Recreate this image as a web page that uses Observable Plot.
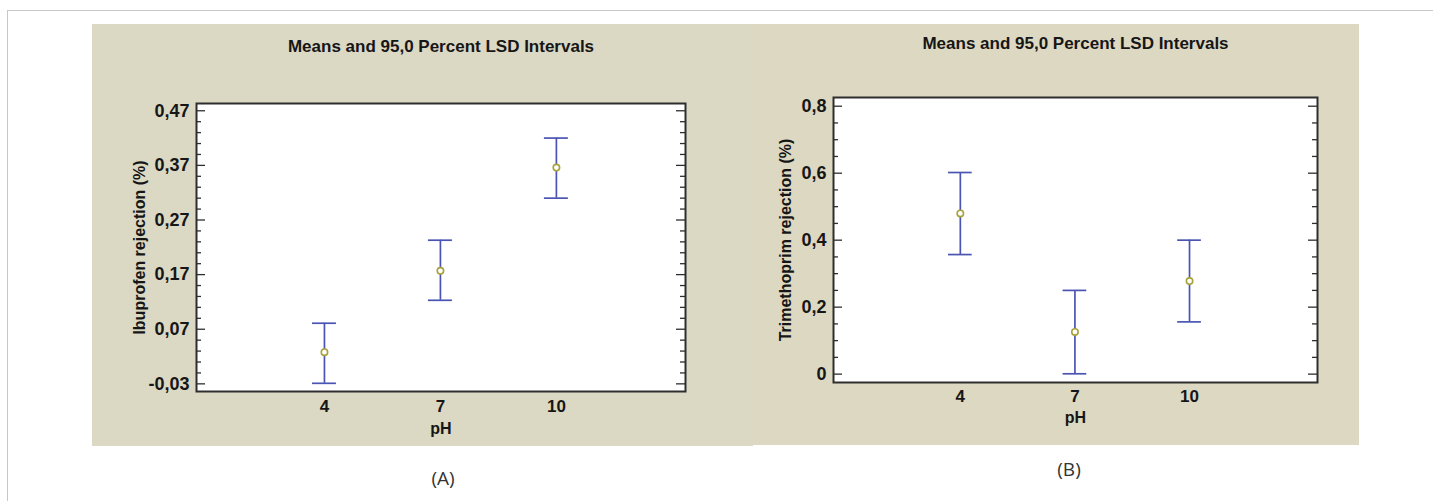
<!DOCTYPE html>
<html>
<head>
<meta charset="utf-8">
<script src="https://cdn.jsdelivr.net/npm/d3@7"></script>
<script src="https://cdn.jsdelivr.net/npm/@observablehq/plot@0.6"></script>
<style>
  html, body { margin: 0; padding: 0; background: #ffffff; }
  body { width: 1433px; height: 501px; position: relative; overflow: hidden; }
  .frame-top { position: absolute; left: 7px; top: 10px; width: 1426px; height: 1px; background: #c8c8c8; }
  .frame-left { position: absolute; left: 7px; top: 10px; width: 1px; height: 491px; background: #c8c8c8; }
  .panel { position: absolute; }
  .caption { position: absolute; font-family: "Open Sans", "Noto Sans", sans-serif; font-size: 19px; color: #333; transform: translate(-50%, -50%); white-space: nowrap; }
</style>
</head>
<body>
<div class="frame-top"></div>
<div class="frame-left"></div>
<div id="panelA" class="panel" style="left:92px; top:24px;"></div>
<div id="panelB" class="panel" style="left:753px; top:24px;"></div>
<div class="caption" style="left:443px; top:478px;">(A)</div>
<div class="caption" style="left:1069px; top:469px;">(B)</div>
<script>
// ---- data ----
const phLevels = [4, 7, 10];

const ibuMean  = [0.028, 0.177, 0.366];
const ibuLower = [-0.029, 0.123, 0.310];
const ibuUpper = [0.081, 0.233, 0.420];

const triMean  = [0.480, 0.126, 0.278];
const triLower = [0.357, 0.001, 0.156];
const triUpper = [0.602, 0.250, 0.400];

const ibuTicks = [-0.03, 0.07, 0.17, 0.27, 0.37, 0.47];
const ibuTickLabels = ["-0,03", "0,07", "0,17", "0,27", "0,37", "0,47"];
const triTicks = [0, 0.2, 0.4, 0.6, 0.8];
const triTickLabels = ["0", "0,2", "0,4", "0,6", "0,8"];
const phTickLabels = ["4", "7", "10"];

const titleText = "Means and 95,0 Percent LSD Intervals";
const ibuYLabel = "Ibuprofen rejection (%)";
const triYLabel = "Trimethoprim rejection (%)";
const xLabel = "pH";

// minor ticks (axis decoration only)
const ibuMinor = d3.range(0, 26).map(i => +(-0.03 + 0.02 * i).toFixed(2)).filter((d, i) => i % 5 !== 0);
const triMinor = d3.range(0, 17).map(i => +(0.05 * i).toFixed(2)).filter((d, i) => i % 4 !== 0);

const blue = "#4a55b3";
const olive = "#a8a23a";
const dark = "#2e2e2e";
const textColor = "#161616";
const capHalf = 0.31; // half-width of the interval caps, in pH units

function panel(cfg) {
  const rows = phLevels.map((ph, i) => ({ph, mean: cfg.mean[i], lo: cfg.lower[i], hi: cfg.upper[i]}));
  const fw = cfg.width - cfg.marginLeft - cfg.marginRight;
  const fmt = d => cfg.tickLabels[cfg.ticks.findIndex(t => Math.abs(t - d) < 1e-9)];
  const tickStyle = {stroke: dark, strokeWidth: 1.3};
  return Plot.plot({
    width: cfg.width,
    height: cfg.height,
    marginLeft: cfg.marginLeft,
    marginRight: cfg.marginRight,
    marginTop: cfg.marginTop,
    marginBottom: cfg.marginBottom,
    x: {domain: cfg.xDomain},
    y: {domain: cfg.yDomain},
    style: {
      background: cfg.bg,
      fontFamily: "'Liberation Sans', Arial, sans-serif",
      fontWeight: "bold",
      fontSize: "16px",
      color: textColor,
      overflow: "visible"
    },
    marks: [
      Plot.frame({fill: "white"}),
      Plot.tickY(cfg.ticks, {y: d => d, insetRight: fw - 9, ...tickStyle}),
      Plot.tickY(cfg.ticks, {y: d => d, insetLeft: fw - 9, ...tickStyle}),
      Plot.tickY(cfg.minor, {y: d => d, insetRight: fw - 5, ...tickStyle}),
      Plot.tickY(cfg.minor, {y: d => d, insetLeft: fw - 5, ...tickStyle}),
      Plot.axisY({ticks: cfg.ticks, tickSize: 0, tickPadding: 7, tickFormat: fmt, label: null, fontSize: 18, fontWeight: "bold", fill: textColor}),
      Plot.axisX({ticks: phLevels, tickSize: 0, tickPadding: cfg.xTickPad, tickFormat: d => phTickLabels[phLevels.indexOf(d)], label: null, fontSize: 17, fontWeight: "bold", fill: textColor}),
      Plot.ruleX(rows, {x: "ph", y1: "lo", y2: "hi", stroke: blue, strokeWidth: 1.7}),
      Plot.ruleY(rows, {y: "hi", x1: d => d.ph - capHalf, x2: d => d.ph + capHalf, stroke: blue, strokeWidth: 1.7}),
      Plot.ruleY(rows, {y: "lo", x1: d => d.ph - capHalf, x2: d => d.ph + capHalf, stroke: blue, strokeWidth: 1.7}),
      Plot.dot(rows, {x: "ph", y: "mean", symbol: "circle", r: 3.2, stroke: olive, fill: "white", strokeWidth: 1.6}),
      Plot.text([titleText], {text: d => d, frameAnchor: "top", dy: -cfg.titleGap, fontSize: 17, fontWeight: "bold", textAnchor: "middle", lineAnchor: "middle", fill: textColor}),
      Plot.text([xLabel], {text: d => d, frameAnchor: "bottom", dy: cfg.xLabelGap, fontSize: 16, fontWeight: "bold", textAnchor: "middle", lineAnchor: "middle", fill: textColor}),
      Plot.text([cfg.yLabel], {text: d => d, frameAnchor: "left", dx: -cfg.yLabelGap, rotate: -90, fontSize: 16, fontWeight: "bold", textAnchor: "middle", lineAnchor: "middle", fill: textColor}),
      Plot.frame({stroke: dark, strokeWidth: 2})
    ]
  });
}

document.getElementById("panelA").appendChild(panel({
  width: 661, height: 422,
  marginLeft: 104, marginRight: 68, marginTop: 79, marginBottom: 55,
  xDomain: [0.69, 13.34], yDomain: [-0.044, 0.4833],
  mean: ibuMean, lower: ibuLower, upper: ibuUpper,
  ticks: ibuTicks, tickLabels: ibuTickLabels, minor: ibuMinor,
  yLabel: ibuYLabel, bg: "#dbd8c4",
  titleGap: 57, xTickPad: 8, xLabelGap: 37, yLabelGap: 57
}));

document.getElementById("panelB").appendChild(panel({
  width: 606, height: 421,
  marginLeft: 80, marginRight: 42, marginTop: 73, marginBottom: 63,
  xDomain: [0.68, 13.35], yDomain: [-0.025, 0.826],
  mean: triMean, lower: triLower, upper: triUpper,
  ticks: triTicks, tickLabels: triTickLabels, minor: triMinor,
  yLabel: triYLabel, bg: "#ddd8c2",
  titleGap: 54, xTickPad: 7, xLabelGap: 35, yLabelGap: 48
}));
</script>
</body>
</html>
